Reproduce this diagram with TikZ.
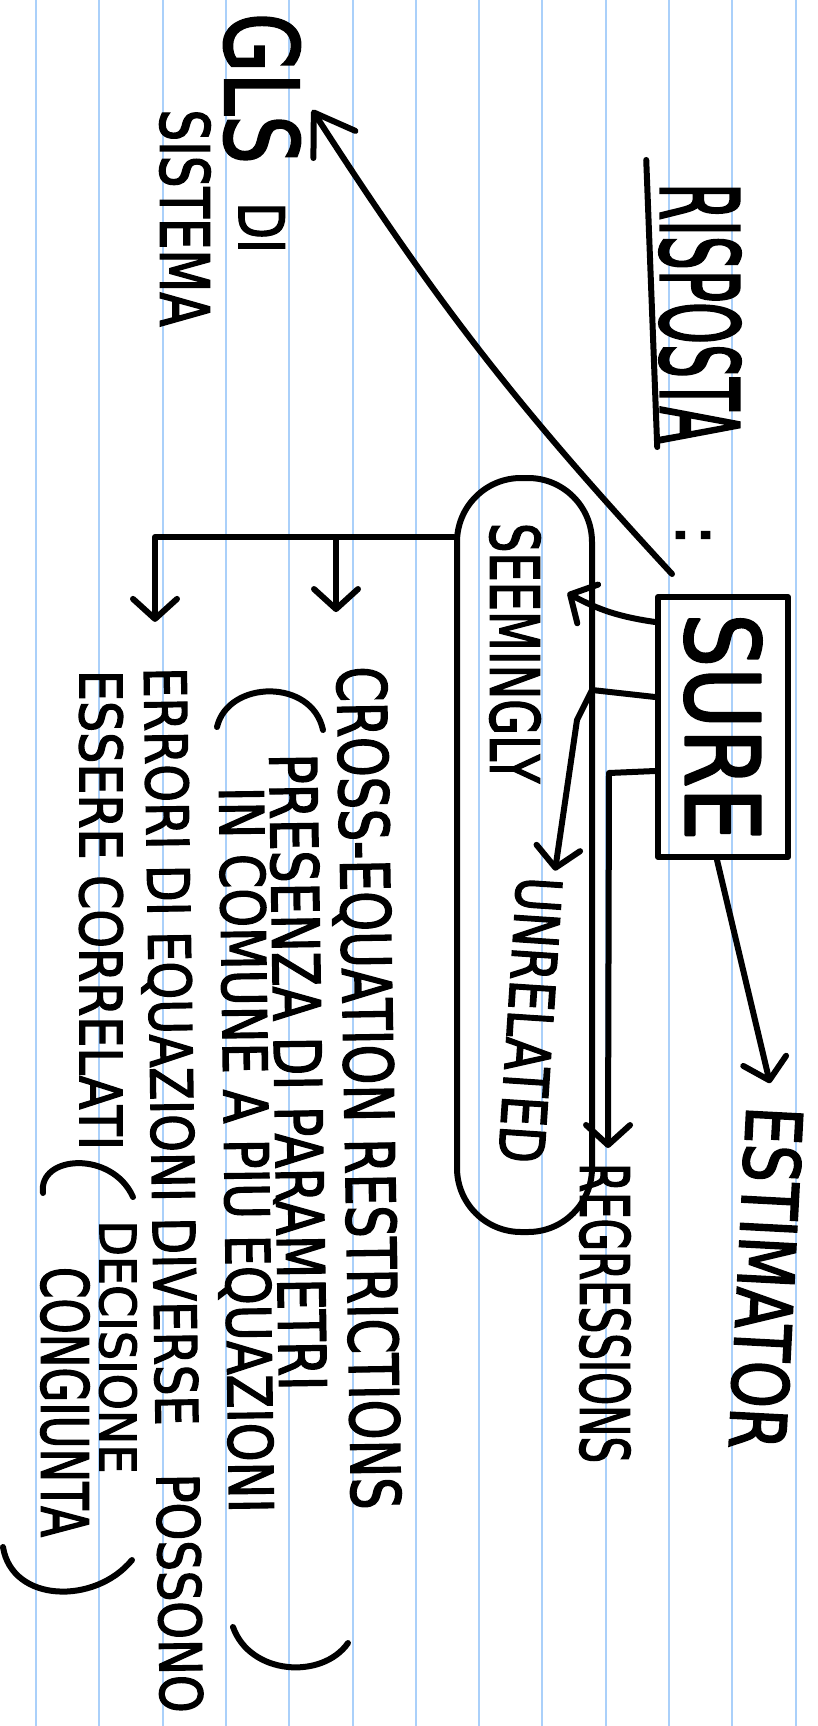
\documentclass[tikz,border=0pt]{standalone}
\usepackage{fontspec}
\setmainfont{DejaVu Sans}[FakeBold=2.5]
\usepackage{graphicx}
\usetikzlibrary{arrows.meta, calc}
\definecolor{ruleblue}{RGB}{170, 208, 250}

% rotated hand-lettering: [angle]{length}{cap height}{text}
\newcommand{\hw}[4][-90]{\rotatebox{#1}{\resizebox{#2}{#3}{#4}}}

\begin{document}
\begin{tikzpicture}[x=1pt, y=-1pt,
        pen/.style={line width=6pt, line cap=round, line join=round},
        arr/.style={pen, -{Straight Barb[length=20pt, width=44pt, round]}},
        bigarr/.style={pen, -{Straight Barb[length=38pt, width=50pt, round]}},
        hand/.style={inner sep=0pt, outer sep=0pt},
        box/.style={draw, pen, minimum width=130pt, minimum height=260pt, inner sep=0pt},
        oval/.style={draw, pen, rounded corners=64pt, minimum width=135pt, minimum height=754pt},
    ]
        \fill[white] (0,0) rectangle (817,1726);
        \useasboundingbox (0,0) rectangle (817,1726);
        \foreach \k in {0,...,12}
            \draw[ruleblue, line width=2pt] ({36+63.3*\k},0) -- ({36+63.3*\k},1726);

        \node[hand] (risp) at (700,313) {\hw{260pt}{80pt}{RISPOSTA}};
        \node[hand] (colon) at (693,535) {\rotatebox{-90}{\fontsize{64}{64}\selectfont :}};
        \node[box] (sure) at (723,727) {\hw{227pt}{76pt}{SURE}};

        \node[oval] (seemgrp) at (524.5,855) {};
        \node[hand] (seem) at (515,653) {\hw{260pt}{50pt}{SEEMINGLY}};
        \node[hand] (unrel) at (530,1020) {\hw[-93.8]{286pt}{45pt}{UNRELATED}};
        \node[hand] (regr) at (605,1313) {\hw{300pt}{50pt}{REGRESSIONS}};
        \node[hand] (est) at (766,1278) {\hw[-93]{343pt}{57pt}{ESTIMATOR}};

        \node[hand] (gls) at (262,133) {\hw{240pt}{75pt}{GLS\hspace{0.5em}\raisebox{0.3\height}{\scalebox{0.62}{DI}}}};
        \node[hand] (sist) at (185,218) {\hw{217pt}{50pt}{SISTEMA}};

        \node[hand] (cross) at (365,1088) {\hw[-89]{843pt}{50pt}{CROSS-EQUATION RESTRICTIONS}};
        \node[hand] (pres) at (298,1072) {\hw[-89.1]{637pt}{48pt}{PRESENZA DI PARAMETRI}};
        \node[hand] (comune) at (243,1150) {\hw[-89.2]{726pt}{45pt}{IN COMUNE A PI\smash{Ù} EQUAZIONI}};
        \node[hand] (err) at (170,1190) {\hw[-89.1]{1045pt}{43pt}{ERRORI DI EQUAZIONI DIVERSE\hspace{1em}POSSONO}};
        \node[hand] (ess) at (101,910) {\hw{480pt}{43pt}{ESSERE CORRELATI}};
        \node[hand] (deci) at (118,1347) {\hw{253pt}{37pt}{DECISIONE}};
        \node[hand] (cong) at (65,1402) {\hw{270pt}{48pt}{CONGIUNTA}};

        % underline and brackets
        \draw[pen] ([shift={(-13pt,23pt)}]risp.north west) -- ([shift={(-2pt,-4pt)}]risp.south west);
        \draw[pen] (323,730) .. controls (312,678) and (228,680) .. (217,727);
        \draw[pen] (233,1627) .. controls (250,1675) and (322,1680) .. (348,1643);
        \draw[pen] (43,1193) .. controls (38,1155) and (112,1150) .. (133,1197);
        \draw[pen] (3,1547) .. controls (12,1603) and (95,1605) .. (132,1560);

        % arrows out of the SURE box
        \draw[bigarr] ([shift={(17pt,20pt)}]sure.north west) to[bend left=5] ([shift={(12pt,23pt)}]gls.east);
        \draw[arr] ([yshift=105pt]sure.west) to[bend left=10] ([shift={(27pt,60pt)}]seem.east);
        \draw[arr] ([yshift=30pt]sure.west) -- ++(-63,-7) -- ++(-15,30) -- ([shift={(25pt,5pt)}]unrel.north);
        \draw[arr] ([yshift=-44pt]sure.west) -- ++(-46,2) -- ([shift={(3pt,15pt)}]regr.north);
        \draw[arr] ([xshift=-6pt]sure.south) -- ([shift={(4pt,22pt)}]est.north);

        % bracket to the two notes
        \coordinate (fork) at ([yshift=318pt]seemgrp.west);
        \coordinate (errtip) at ([shift={(-15pt,45pt)}]err.north);
        \coordinate (crosstip) at ([shift={(-29pt,54pt)}]cross.north);
        \draw[arr] (fork) -| (errtip);
        \draw[arr] (crosstip |- fork) -- (crosstip);
    \end{tikzpicture}
\end{document}
